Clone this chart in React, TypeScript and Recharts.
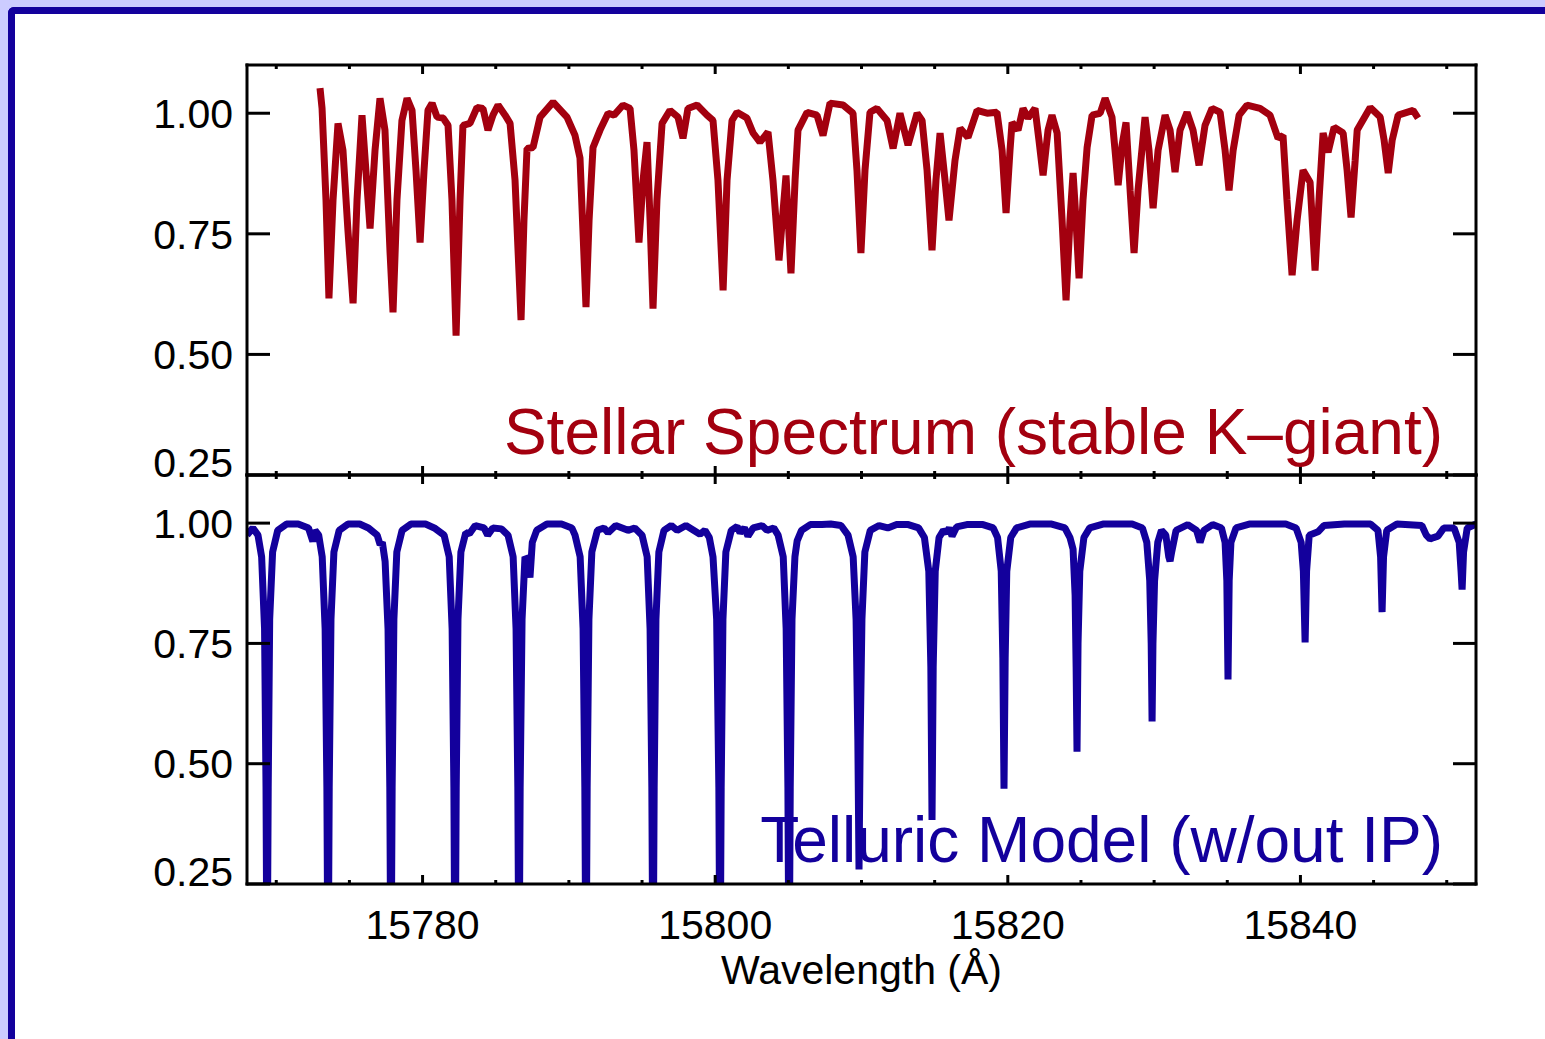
import React from "react"
import { LineChart, Line, XAxis, YAxis } from "recharts"

// [wavelength (Å), normalised flux]
const stellar: [number, number][] = [
  [15772.99, 1.052], [15773.13, 1.01], [15773.4, 0.82], [15773.6, 0.616], [15773.88, 0.82],
  [15774.22, 0.979], [15774.56, 0.923], [15774.9, 0.757], [15775.25, 0.606], [15775.52, 0.82],
  [15775.86, 0.996], [15776.13, 0.88], [15776.41, 0.761], [15776.75, 0.923], [15777.09, 1.031],
  [15777.43, 0.965], [15777.77, 0.716], [15777.98, 0.587], [15778.25, 0.82], [15778.59, 0.985],
  [15778.94, 1.031], [15779.28, 1.006], [15779.55, 0.882], [15779.83, 0.732], [15780.1, 0.882],
  [15780.37, 1.006], [15780.65, 1.021], [15780.99, 0.992], [15781.4, 0.99], [15781.74, 0.975],
  [15782.01, 0.82], [15782.29, 0.539], [15782.56, 0.82], [15782.76, 0.975], [15783.24, 0.979],
  [15783.72, 1.012], [15784.13, 1.01], [15784.47, 0.965], [15784.81, 0.996], [15785.16, 1.017],
  [15785.64, 0.996], [15785.98, 0.979], [15786.32, 0.861], [15786.73, 0.571], [15786.93, 0.778],
  [15787.14, 0.927], [15787.55, 0.929], [15788.03, 0.992], [15788.92, 1.023], [15789.87, 0.992],
  [15790.42, 0.954], [15790.76, 0.907], [15790.96, 0.757], [15791.17, 0.598], [15791.38, 0.778],
  [15791.65, 0.929], [15792.13, 0.965], [15792.68, 1.0], [15793.09, 0.996], [15793.7, 1.017],
  [15794.18, 1.01], [15794.45, 0.923], [15794.79, 0.732], [15795.07, 0.861], [15795.34, 0.94],
  [15795.55, 0.778], [15795.75, 0.595], [15796.02, 0.82], [15796.37, 0.979], [15796.91, 1.006],
  [15797.46, 0.992], [15797.8, 0.948], [15798.14, 1.01], [15798.76, 1.017], [15799.44, 0.996],
  [15799.85, 0.985], [15800.19, 0.861], [15800.54, 0.633], [15800.81, 0.861], [15801.15, 0.985],
  [15801.49, 1.002], [15802.17, 0.99], [15802.59, 0.959], [15803.06, 0.94], [15803.61, 0.961],
  [15803.95, 0.861], [15804.36, 0.695], [15804.84, 0.871], [15805.18, 0.668], [15805.46, 0.861],
  [15805.66, 0.965], [15806.28, 1.002], [15806.96, 0.996], [15807.37, 0.954], [15807.85, 1.021],
  [15808.74, 1.017], [15809.42, 1.0], [15809.69, 0.882], [15809.96, 0.71], [15810.24, 0.882],
  [15810.58, 1.002], [15811.06, 1.01], [15811.75, 0.985], [15812.16, 0.927], [15812.63, 1.0],
  [15813.18, 0.934], [15813.8, 1.0], [15814.14, 0.985], [15814.48, 0.882], [15814.82, 0.716],
  [15815.09, 0.861], [15815.37, 0.959], [15815.71, 0.861], [15815.98, 0.778], [15816.39, 0.902],
  [15816.74, 0.969], [15817.28, 0.95], [15817.9, 1.006], [15818.58, 1.0], [15819.26, 1.002],
  [15819.61, 0.923], [15819.88, 0.793], [15820.15, 0.923], [15820.29, 0.981], [15820.7, 0.965],
  [15821.04, 1.01], [15821.38, 0.99], [15821.86, 1.01], [15822.13, 0.944], [15822.41, 0.871],
  [15822.75, 0.965], [15823.02, 0.996], [15823.37, 0.959], [15823.71, 0.778], [15823.98, 0.612],
  [15824.25, 0.778], [15824.46, 0.876], [15824.66, 0.778], [15824.87, 0.658], [15825.14, 0.82],
  [15825.42, 0.929], [15825.76, 0.996], [15826.31, 1.0], [15826.65, 1.031], [15827.12, 0.992],
  [15827.33, 0.923], [15827.54, 0.851], [15827.81, 0.934], [15828.08, 0.981], [15828.36, 0.84],
  [15828.63, 0.71], [15828.9, 0.84], [15829.38, 0.992], [15829.65, 0.923], [15829.93, 0.803],
  [15830.27, 0.923], [15830.75, 0.996], [15831.09, 0.965], [15831.43, 0.878], [15831.77, 0.965],
  [15832.25, 1.002], [15832.66, 0.965], [15833.07, 0.892], [15833.48, 0.975], [15833.96, 1.01],
  [15834.51, 1.002], [15834.85, 0.923], [15835.12, 0.84], [15835.4, 0.923], [15835.81, 0.996],
  [15836.35, 1.017], [15837.24, 1.01], [15837.92, 0.996], [15838.47, 0.948], [15838.81, 0.954],
  [15839.08, 0.82], [15839.43, 0.664], [15839.77, 0.778], [15840.18, 0.882], [15840.66, 0.857],
  [15841.0, 0.674], [15841.27, 0.82], [15841.55, 0.959], [15841.89, 0.919], [15842.3, 0.971],
  [15842.92, 0.959], [15843.19, 0.882], [15843.46, 0.784], [15843.74, 0.902], [15843.88, 0.965],
  [15844.77, 1.012], [15845.45, 0.992], [15845.72, 0.944], [15846.0, 0.876], [15846.27, 0.944],
  [15846.68, 0.996], [15847.7, 1.006], [15848.04, 0.99],
]

// [wavelength (Å), transmission] (deep cores run off the bottom)
const telluric: [number, number][] = [
  [15768.0, 0.975], [15768.4, 0.99], [15768.75, 0.975], [15769.0, 0.93], [15769.2, 0.78],
  [15769.3, 0.45], [15769.37, 0.0], [15769.45, 0.45], [15769.55, 0.8], [15769.75, 0.94],
  [15770.1, 0.985], [15770.7, 0.998], [15771.5, 0.998], [15772.2, 0.99], [15772.5, 0.962],
  [15772.65, 0.985], [15772.9, 0.975], [15773.14, 0.93], [15773.34, 0.78], [15773.46, 0.45],
  [15773.54, 0.0], [15773.62, 0.45], [15773.74, 0.8], [15773.94, 0.94], [15774.3, 0.985],
  [15774.9, 0.998], [15775.7, 0.998], [15776.3, 0.99], [15776.9, 0.975], [15777.1, 0.955],
  [15777.25, 0.96], [15777.44, 0.92], [15777.64, 0.78], [15777.76, 0.45], [15777.84, 0.0],
  [15777.92, 0.45], [15778.04, 0.8], [15778.24, 0.94], [15778.6, 0.985], [15779.2, 0.998],
  [15780.2, 0.998], [15780.8, 0.99], [15781.47, 0.975], [15781.82, 0.93], [15782.02, 0.78],
  [15782.14, 0.45], [15782.22, 0.0], [15782.3, 0.45], [15782.42, 0.8], [15782.62, 0.94],
  [15782.95, 0.98], [15783.2, 0.978], [15783.6, 0.995], [15784.2, 0.99], [15784.45, 0.975],
  [15784.8, 0.99], [15785.4, 0.988], [15785.84, 0.975], [15786.19, 0.93], [15786.39, 0.78],
  [15786.51, 0.45], [15786.59, 0.0], [15786.67, 0.45], [15786.8, 0.8], [15787.0, 0.93],
  [15787.15, 0.925], [15787.34, 0.887], [15787.5, 0.96], [15787.8, 0.985], [15788.5, 0.998],
  [15789.5, 0.998], [15790.2, 0.99], [15790.42, 0.975], [15790.77, 0.93], [15790.97, 0.78],
  [15791.09, 0.45], [15791.17, 0.0], [15791.25, 0.45], [15791.37, 0.8], [15791.57, 0.94],
  [15791.95, 0.985], [15792.4, 0.99], [15792.68, 0.98], [15793.2, 0.995], [15794.04, 0.985],
  [15794.5, 0.99], [15795.0, 0.975], [15795.35, 0.93], [15795.55, 0.78], [15795.67, 0.45],
  [15795.75, 0.0], [15795.83, 0.45], [15795.95, 0.8], [15796.15, 0.94], [15796.5, 0.985],
  [15797.0, 0.995], [15797.4, 0.985], [15798.0, 0.995], [15798.96, 0.977], [15799.3, 0.985],
  [15799.6, 0.97], [15799.85, 0.93], [15800.1, 0.8], [15800.25, 0.45], [15800.33, 0.0],
  [15800.41, 0.45], [15800.53, 0.8], [15800.73, 0.94], [15801.1, 0.985], [15801.5, 0.993],
  [15801.7, 0.98], [15802.0, 0.99], [15802.24, 0.973], [15802.6, 0.99], [15803.2, 0.995],
  [15803.54, 0.985], [15804.0, 0.99], [15804.3, 0.975], [15804.65, 0.93], [15804.85, 0.78],
  [15804.97, 0.45], [15805.05, 0.0], [15805.13, 0.45], [15805.25, 0.8], [15805.45, 0.93],
  [15805.6, 0.963], [15805.9, 0.985], [15806.5, 0.997], [15807.3, 0.997], [15807.9, 0.998],
  [15808.6, 0.995], [15809.08, 0.975], [15809.43, 0.93], [15809.63, 0.8], [15809.75, 0.55],
  [15809.83, 0.28], [15809.91, 0.55], [15810.03, 0.8], [15810.23, 0.94], [15810.6, 0.985],
  [15811.2, 0.995], [15811.8, 0.99], [15812.4, 0.997], [15813.2, 0.997], [15813.9, 0.99],
  [15814.3, 0.97], [15814.6, 0.9], [15814.74, 0.7], [15814.82, 0.383], [15814.9, 0.7],
  [15815.04, 0.9], [15815.3, 0.97], [15815.6, 0.985], [15815.82, 0.98], [15816.0, 0.99],
  [15816.19, 0.973], [15816.5, 0.992], [15817.2, 0.997], [15818.3, 0.997], [15819.0, 0.99],
  [15819.3, 0.97], [15819.55, 0.9], [15819.66, 0.72], [15819.74, 0.448], [15819.82, 0.72],
  [15819.93, 0.9], [15820.2, 0.97], [15820.6, 0.99], [15821.5, 0.998], [15823.0, 0.998],
  [15823.9, 0.99], [15824.25, 0.97], [15824.46, 0.946], [15824.6, 0.85], [15824.67, 0.7],
  [15824.73, 0.525], [15824.8, 0.75], [15824.92, 0.9], [15825.2, 0.97], [15825.6, 0.99],
  [15826.5, 0.998], [15828.5, 0.998], [15829.2, 0.99], [15829.5, 0.96], [15829.7, 0.88],
  [15829.8, 0.75], [15829.86, 0.588], [15829.92, 0.75], [15830.03, 0.88], [15830.25, 0.96],
  [15830.5, 0.985], [15830.8, 0.975], [15831.0, 0.93], [15831.09, 0.921], [15831.2, 0.94],
  [15831.5, 0.985], [15832.3, 0.997], [15832.9, 0.985], [15833.14, 0.96], [15833.4, 0.985],
  [15834.0, 0.997], [15834.6, 0.99], [15834.85, 0.96], [15834.97, 0.88], [15835.05, 0.675],
  [15835.13, 0.88], [15835.25, 0.96], [15835.6, 0.99], [15836.5, 0.998], [15839.0, 0.998],
  [15839.7, 0.99], [15840.05, 0.96], [15840.2, 0.9], [15840.32, 0.752], [15840.42, 0.9],
  [15840.6, 0.975], [15841.2, 0.982], [15841.6, 0.995], [15843.0, 0.998], [15844.8, 0.998],
  [15845.3, 0.985], [15845.48, 0.93], [15845.58, 0.815], [15845.68, 0.93], [15845.9, 0.985],
  [15846.6, 0.998], [15848.3, 0.995], [15848.6, 0.975], [15848.86, 0.967], [15849.1, 0.97],
  [15849.4, 0.973], [15849.8, 0.99], [15850.5, 0.99], [15850.85, 0.96], [15850.98, 0.9],
  [15851.05, 0.862], [15851.15, 0.94], [15851.4, 0.99], [15852.0, 0.998],
]

const xTicks = [
  15770, 15775, 15780, 15785, 15790, 15795, 15800, 15805, 15810,
  15815, 15820, 15825, 15830, 15835, 15840, 15845, 15850,
]
const xMajor = [15780, 15800, 15820, 15840]
const yTicks = [0.25, 0.5, 0.75, 1.0]
const xDomain = [15768, 15852]
const yDomain = [0.25, 1.1]

const W = 1545
const H = 1039
const PLOT_L = 247
const PLOT_R = 1476
const TOP_T = 65
const MID = 475
const BOT_B = 884
const FONT = "'Liberation Sans', Arial, Helvetica, sans-serif"
const RED = "#a3000f"
const BLUE = "#13009c"
const axisStyle = { stroke: "#000", strokeWidth: 3, strokeLinecap: "square" as const }

function XTick(props: any) {
  const { x, payload, edge, dir, label } = props
  const v = payload.value
  const major = xMajor.includes(v)
  return (
    <g>
      <line x1={x} x2={x} y1={edge} y2={edge + dir * (major ? 9 : 4)} stroke="#000" strokeWidth={3} />
      {label && major && (
        <text x={x} y={edge + 55} textAnchor="middle" fontSize={41} fontFamily={FONT} fill="#000">
          {v}
        </text>
      )}
    </g>
  )
}

function YTick(props: any) {
  const { y, payload, edge, dir, label } = props
  const v = payload.value
  // lowest label sits a bit higher so it stays clear of the axis below
  const ty = v === yDomain[0] ? y - 13 : y
  return (
    <g>
      <line x1={edge} x2={edge + dir * 23} y1={y} y2={y} stroke="#000" strokeWidth={3} />
      {label && (
        <text x={PLOT_L - 14} y={ty} dy="0.36em" textAnchor="end" fontSize={41} fontFamily={FONT} fill="#000">
          {v.toFixed(2)}
        </text>
      )}
    </g>
  )
}

type PanelProps = {
  rows: [number, number][]
  color: string
  top: number
  bottom: number
  xLabels: boolean
}

function Panel({ rows, color, top, bottom, xLabels }: PanelProps) {
  const data = rows.map(([w, f]) => ({ w, f }))
  // axes are 1px thick so recharts still draws them; margins leave the plot box where it should be
  const xCommon = {
    dataKey: "w",
    type: "number" as const,
    domain: xDomain,
    allowDataOverflow: true,
    ticks: xTicks,
    interval: 0,
    height: 1,
    tickSize: 0,
    tickLine: false,
    axisLine: axisStyle,
  }
  const yCommon = {
    type: "number" as const,
    domain: yDomain,
    allowDataOverflow: true,
    ticks: yTicks,
    interval: 0,
    width: 1,
    tickSize: 0,
    tickLine: false,
    axisLine: axisStyle,
  }
  return (
    <div style={{ position: "absolute", left: 0, top: 0 }}>
      <LineChart
        width={W}
        height={H}
        data={data}
        margin={{ top: top - 1, bottom: H - bottom - 1, left: PLOT_L - 1, right: W - PLOT_R - 1 }}
        style={{ overflow: "visible" }}
      >
        <XAxis {...xCommon} xAxisId="b" tick={(p: any) => <XTick {...p} edge={bottom} dir={-1} label={xLabels} />} />
        <XAxis {...xCommon} xAxisId="t" orientation="top" tick={(p: any) => <XTick {...p} edge={top} dir={1} label={false} />} />
        <YAxis {...yCommon} yAxisId="l" tick={(p: any) => <YTick {...p} edge={PLOT_L} dir={1} label />} />
        <YAxis {...yCommon} yAxisId="r" orientation="right" tick={(p: any) => <YTick {...p} edge={PLOT_R} dir={-1} label={false} />} />
        <Line
          xAxisId="b"
          yAxisId="l"
          dataKey="f"
          stroke={color}
          strokeWidth={7}
          strokeLinejoin="bevel"
          dot={false}
          activeDot={false}
          isAnimationActive={false}
        />
      </LineChart>
    </div>
  )
}

export default function App() {
  return (
    <div style={{ position: "absolute", left: 0, top: 0, width: W, height: H, background: "#ccccff", overflow: "hidden" }}>
      <div
        style={{
          position: "absolute",
          left: 8,
          top: 7,
          right: 0,
          bottom: 0,
          background: "#fff",
          borderTop: `7px solid ${BLUE}`,
          borderLeft: `7px solid ${BLUE}`,
          borderTopLeftRadius: 6,
        }}
      />
      <Panel rows={stellar} color={RED} top={TOP_T} bottom={MID} xLabels={false} />
      <Panel rows={telluric} color={BLUE} top={MID} bottom={BOT_B} xLabels />
      <svg width={W} height={H} style={{ position: "absolute", left: 0, top: 0, pointerEvents: "none" }}>
        <text x={1443} y={454} textAnchor="end" fontSize={64} fontFamily={FONT} fill={RED}>
          Stellar Spectrum (stable K–giant)
        </text>
        <text x={1443} y={862} textAnchor="end" fontSize={64} fontFamily={FONT} fill={BLUE}>
          Telluric Model (w/out IP)
        </text>
        <text x={(PLOT_L + PLOT_R) / 2} y={984} textAnchor="middle" fontSize={41} fontFamily={FONT} fill="#000">
          Wavelength (Å)
        </text>
      </svg>
    </div>
  )
}
